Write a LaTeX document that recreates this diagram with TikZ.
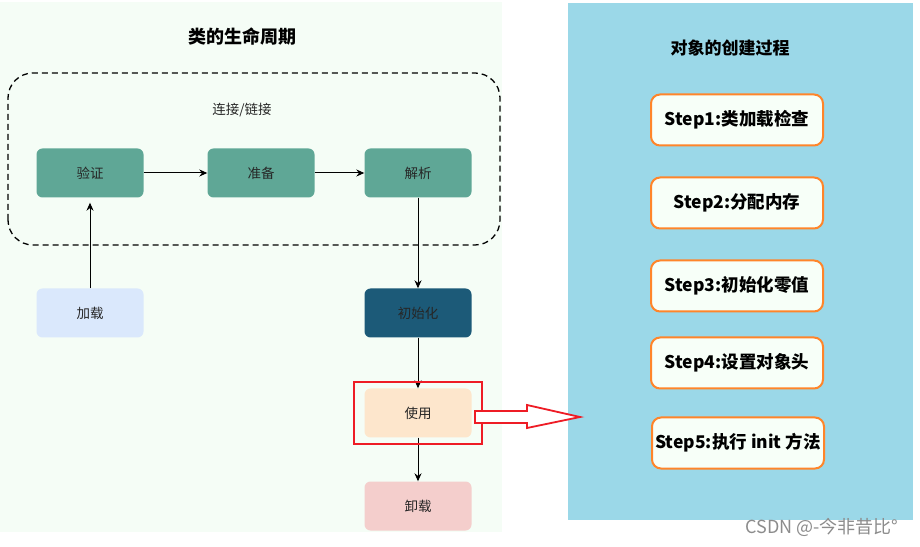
\documentclass[tikz,border=0pt]{standalone}
\usepackage{fontspec}
\setmainfont{Noto Sans CJK SC}
\usepackage{tikz}
\usetikzlibrary{arrows.meta,backgrounds,calc,fit}

\definecolor{lifebg}{HTML}{F5FDF6}
\definecolor{linkgreen}{HTML}{5FA796}
\definecolor{initblue}{HTML}{1C5A78}
\definecolor{loadblue}{HTML}{DAE8FC}
\definecolor{usepeach}{HTML}{FDE6CC}
\definecolor{unloadpink}{HTML}{F4CECC}
\definecolor{createbg}{HTML}{9BD8E8}
\definecolor{stepline}{HTML}{FF852A}
\definecolor{stepfill}{HTML}{F7FFF8}
\definecolor{markred}{HTML}{EE1C25}

\tikzset{
  stage/.style={rectangle, rounded corners=6pt, minimum width=107pt, minimum height=49pt,
    inner sep=0pt, text=black!85, font=\fontsize{13.5}{16}\selectfont},
  stepbox/.style={rectangle, rounded corners=9pt, draw=stepline, line width=2pt, fill=stepfill,
    minimum width=172pt, minimum height=51pt, inner sep=0pt, font=\bfseries\fontsize{17.5}{21}\selectfont},
  flow/.style={-{Stealth[length=8pt,width=7pt]}, line width=1pt},
  headline/.style={font=\bfseries\fontsize{18}{21}\selectfont}
}

\begin{document}
\begin{tikzpicture}[x=1pt,y=1pt]
\useasboundingbox (0,0) rectangle (920,546);
% two panels
\fill[lifebg] (0,14) rectangle (502,544);
\fill[createbg] (568,26) rectangle (913,543);

% class life cycle
\node[headline] (lifetitle) at (242,509) {类的生命周期};
\draw[dash pattern=on 6pt off 4pt, line width=1.3pt, rounded corners=25pt] (8,301) rectangle (500,473);
\node[font=\fontsize{13.5}{16}\selectfont, text=black!85] (linktitle) at (242,436) {连接/链接};

\node[stage, fill=linkgreen] (verify) at (90,373) {验证};
\node[stage, fill=linkgreen] (prepare) at (261,373) {准备};
\node[stage, fill=linkgreen] (resolve) at (418,373) {解析};
\node[stage, fill=loadblue] (load) at (90,233) {加载};
\node[stage, fill=initblue] (init) at (418,233) {初始化};
\node[stage, fill=usepeach] (use) at (418,133) {使用};
\node[stage, fill=unloadpink] (unload) at (418,40) {卸载};

\draw[flow] (verify) -- (prepare);
\draw[flow] (prepare) -- (resolve);
\draw[flow, shorten >=5pt] (load) -- (verify);
\draw[flow] (resolve) -- (init);
\draw[flow] (init) -- (use);
\draw[flow] (use) -- (unload);

% mark on use
\node[fit=(use), inner xsep=10.5pt, inner ysep=6pt, draw=markred, line width=1.8pt] (usebox) {};
\coordinate (arrowtip) at (580,129);
\draw[markred, line width=1.8pt, fill=white, line join=miter]
  (475,135) -- (527,135) -- (527,141) -- (arrowtip) -- (527,118) -- (527,123) -- (475,123) -- cycle;

% object creation
\node[headline, font=\bfseries\fontsize{17}{20}\selectfont] (createtitle) at (730,498) {对象的创建过程};
\node[stepbox] (step1) at (737,426) {Step1:类加载检查};
\node[stepbox] (step2) at (737,343) {Step2:分配内存};
\node[stepbox] (step3) at (737,260) {Step3:初始化零值};
\node[stepbox] (step4) at (737,183) {Step4:设置对象头};
\node[stepbox] (step5) at (738,103) {Step5:执行 init 方法};

\node[text=black!45, font=\fontsize{18}{21}\selectfont] (mark) at (822,19) {CSDN @-今非昔比°};
\end{tikzpicture}
\end{document}
